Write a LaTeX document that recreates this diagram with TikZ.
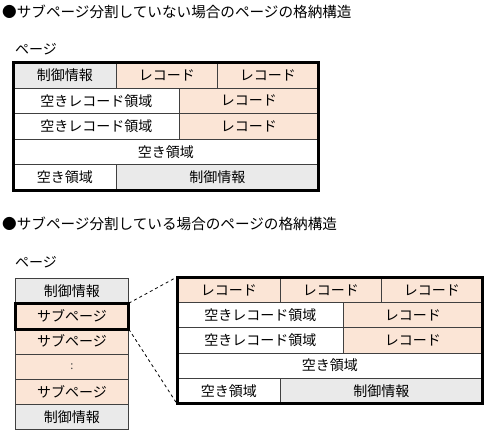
\documentclass[tikz,border=0pt]{standalone}
\usepackage{fontspec}
\setmainfont{Noto Sans CJK JP}
\usetikzlibrary{positioning}

\definecolor{recfill}{HTML}{FBE5D6}
\definecolor{ctlfill}{HTML}{EAEAEA}
\definecolor{cellline}{HTML}{404040}

% one cell: name, x, y, width, height, fill, text
\newcommand{\Cell}[7]{\node[cell, fill = #6, minimum width = #4pt, minimum height = #5pt] (#1) at (#2,#3) {#7};}

\begin{document}
\begin{tikzpicture}[ x = 1pt, y = -1pt, font = \fontsize{14}{16}\selectfont ]
        \tikzset{cell/.style={draw = cellline, line width = 0.8pt, inner sep = 0pt, anchor = north west}}
        \tikzset{frame/.style={draw = black, line width = 3pt}}
        \tikzset{label/.style={anchor = west, inner sep = 0pt}}
        \tikzset{heading/.style={label, font = \fontsize{14.6}{16}\selectfont}}

        \useasboundingbox (0,0) rectangle (485,432);

        % page without subpages
        \node[heading] (title1) at (2,12) {●サブページ分割していない場合のページの格納構造};
        \node[label] (page1) at (15,49) {ページ};

        \Cell{a11}{13}{62}{103}{25.6}{ctlfill}{制御情報}
        \Cell{a12}{116}{62}{101}{25.6}{recfill}{レコード}
        \Cell{a13}{217}{62}{101}{25.6}{recfill}{レコード}
        \Cell{a21}{13}{87.6}{166}{25.6}{white}{空きレコード領域}
        \Cell{a22}{179}{87.6}{139}{25.6}{recfill}{レコード}
        \Cell{a31}{13}{113.2}{166}{25.6}{white}{空きレコード領域}
        \Cell{a32}{179}{113.2}{139}{25.6}{recfill}{レコード}
        \Cell{a41}{13}{138.8}{305}{25.6}{white}{空き領域}
        \Cell{a51}{13}{164.4}{103}{25.6}{white}{空き領域}
        \Cell{a52}{116}{164.4}{202}{25.6}{ctlfill}{制御情報}
        \draw[frame] (a11.north west) rectangle (a52.south east);

        % page with subpages
        \node[heading] (title2) at (2,224) {●サブページ分割している場合のページの格納構造};
        \node[label] (page2) at (15,262) {ページ};

        \Cell{c1}{15}{278}{113}{25.17}{ctlfill}{制御情報}
        \Cell{c2}{15}{303.17}{113}{25.17}{recfill}{サブページ}
        \Cell{c3}{15}{328.33}{113}{25.17}{recfill}{サブページ}
        \Cell{c4}{15}{353.5}{113}{25.17}{recfill}{\color{cellline}\fontsize{11}{12}\selectfont :}
        \Cell{c5}{15}{378.67}{113}{25.17}{recfill}{サブページ}
        \Cell{c6}{15}{403.83}{113}{25.17}{ctlfill}{制御情報}
        \draw[frame] (c2.north west) rectangle (c2.south east);

        \Cell{b11}{177}{277}{103}{25.2}{recfill}{レコード}
        \Cell{b12}{280}{277}{101}{25.2}{recfill}{レコード}
        \Cell{b13}{381}{277}{101}{25.2}{recfill}{レコード}
        \Cell{b21}{177}{302.2}{166}{25.2}{white}{空きレコード領域}
        \Cell{b22}{343}{302.2}{139}{25.2}{recfill}{レコード}
        \Cell{b31}{177}{327.4}{166}{25.2}{white}{空きレコード領域}
        \Cell{b32}{343}{327.4}{139}{25.2}{recfill}{レコード}
        \Cell{b41}{177}{352.6}{305}{25.2}{white}{空き領域}
        \Cell{b51}{177}{377.8}{103}{25.2}{white}{空き領域}
        \Cell{b52}{280}{377.8}{202}{25.2}{ctlfill}{制御情報}
        \draw[frame] (b11.north west) rectangle (b52.south east);

        \draw[dashed, line width = 0.8pt] (c2.north east) -- (b11.north west);
        \draw[dashed, line width = 0.8pt] (c2.south east) -- (b51.south west);

      \end{tikzpicture}
\end{document}
